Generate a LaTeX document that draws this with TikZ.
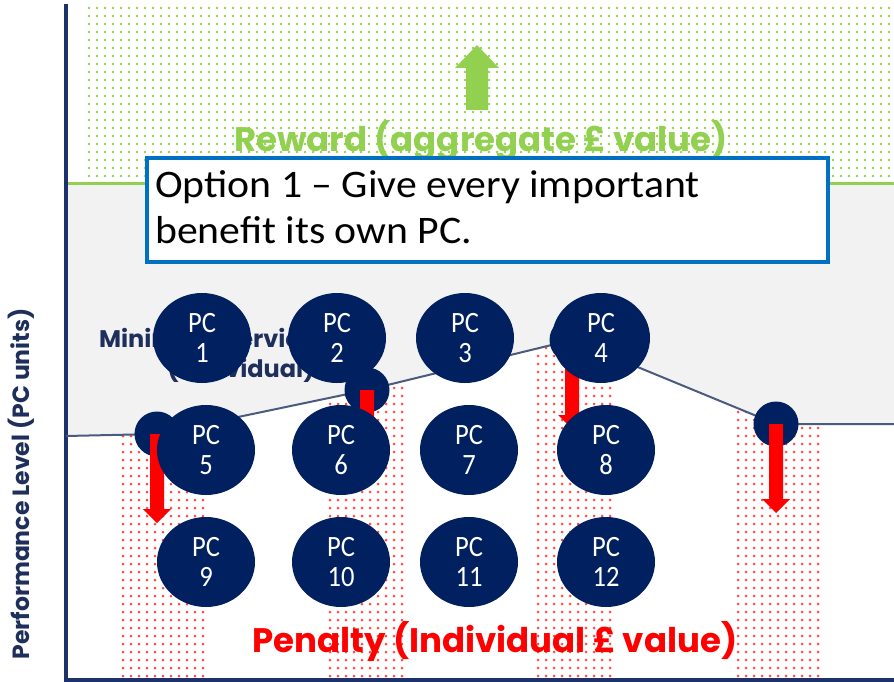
\documentclass[tikz,border=0pt]{standalone}
\usepackage{fontspec}
\setmainfont{Carlito}
\newfontfamily\popfont{Poppins}
\newfontfamily\cfont[FakeStretch=0.9]{Carlito}
\newfontfamily\bxfont[FakeStretch=1.07]{Carlito}
\usetikzlibrary{shapes.geometric}
\definecolor{navyfill}{HTML}{002060}
\definecolor{axisnavy}{HTML}{1B326B}
\definecolor{perfline}{HTML}{4A5B7E}
\definecolor{textnavy}{HTML}{1F2F5C}
\definecolor{greenc}{HTML}{92D050}
\definecolor{redc}{HTML}{FF0000}
\definecolor{reddot}{HTML}{FF4A4A}
\definecolor{boxblue}{HTML}{0070C0}
\definecolor{greyfill}{HTML}{F2F2F2}
\tikzset{
  pc/.style={ellipse, fill=navyfill, text=white, minimum width=98pt, minimum height=90pt,
    inner sep=0pt, align=center, font=\cfont\fontsize{29.5}{30}\selectfont},
  marker/.style={circle, fill=navyfill, minimum size=45pt, inner sep=0pt},
  redarrow/.pic={\fill[redc] (-7,0) -- (-7,75) -- (-14,75) -- (0,89) -- (14,75) -- (7,75) -- (7,0) -- cycle;},
  bigtext/.style={font=\popfont\bfseries\fontsize{34}{40}\selectfont, anchor=base},
  midtext/.style={font=\popfont\bfseries\fontsize{24}{30}\selectfont, text=textnavy, anchor=base},
  boxtext/.style={anchor=base west, font=\bxfont\fontsize{39}{46}\selectfont, inner sep=0pt},
}
\begin{document}
\begin{tikzpicture}[x=1pt,y=-1pt]
\useasboundingbox (0,0) rectangle (894,682);
\fill[white] (0,0) rectangle (894,682);
\coordinate (L0) at (66,436);
\coordinate (m1) at (157,434);
\coordinate (m2) at (367,390);
\coordinate (m3) at (572,340);
\coordinate (m4) at (776,424);
\coordinate (R0) at (894,424);
% grey band
\fill[greyfill] (66,183) -- (894,183) -- (R0) -- (m4) -- (m3) -- (m2) -- (m1) -- (L0) -- cycle;
% green dots
\fill[greenc] foreach \x in {89,97,...,889} {foreach \y in {8,16,...,176} {(\x,\y) circle[radius=1.4pt]}};
% red dots
\begin{scope}
\clip (L0) -- (m1) -- (m2) -- (m3) -- (m4) -- (R0) -- (894,682) -- (66,682) -- cycle;
\fill[reddot] foreach \x in {123,131,...,203} {foreach \y in {340,348,...,676} {(\x,\y) circle[radius=1.5pt]}};
\fill[reddot] foreach \x in {330,338,...,402} {foreach \y in {340,348,...,676} {(\x,\y) circle[radius=1.5pt]}};
\fill[reddot] foreach \x in {538,546,...,610} {foreach \y in {340,348,...,676} {(\x,\y) circle[radius=1.5pt]}};
\fill[reddot] foreach \x in {738,746,...,818} {foreach \y in {340,348,...,676} {(\x,\y) circle[radius=1.5pt]}};
\end{scope}
% lines
\draw[greenc, line width=3pt] (66,183) -- (894,183);
\draw[axisnavy, line width=3.5pt] (66,4) -- (66,680) -- (894,680);
\draw[perfline, line width=2pt] (L0) -- (m1) -- (m2) -- (m3) -- (m4) -- (R0);
% markers
\node[marker] (k1) at (m1) {};
\node[marker] (k2) at (m2) {};
\node[marker] (k3) at (m3) {};
\node[marker] (k4) at (m4) {};
\pic at (k1.center) {redarrow};
\pic at (k2.center) {redarrow};
\pic at (k3.center) {redarrow};
\pic at (k4.center) {redarrow};
% green arrow
\fill[greenc] (466,110) -- (466,68) -- (455,68) -- (477,45) -- (499,68) -- (488,68) -- (488,110) -- cycle;
% texts
\node[bigtext, text=greenc] (reward) at (481,152) {Reward (aggregate £ value)};
\node[bigtext, text=redc] (penalty) at (495,652) {Penalty (Individual £ value)};
\node[midtext] (minA) at (241,347) {Minimum Service Level};
\node[midtext] (minB) at (241,377) {(Individual)};
\node[rotate=90, font=\popfont\bfseries\fontsize{23.5}{28}\selectfont, text=textnavy] (ylab) at (21,484) {Performance Level (PC units)};
% option box
\node[draw=boxblue, line width=4pt, fill=white, minimum width=681pt, minimum height=104pt, inner sep=0pt] (opt) at (487.5,210) {};
\node[boxtext] (optA) at (155,197) {Option 1 – Give every important};
\node[boxtext] (optB) at (155,243) {benefit its own PC.};
% PC ellipses
\node[pc] (pc1) at (202,338) {PC\\1};
\node[pc] (pc2) at (337,338) {PC\\2};
\node[pc] (pc3) at (465,338) {PC\\3};
\node[pc] (pc4) at (601,338) {PC\\4};
\node[pc] (pc5) at (206,450) {PC\\5};
\node[pc] (pc6) at (341,450) {PC\\6};
\node[pc] (pc7) at (469,450) {PC\\7};
\node[pc] (pc8) at (606,450) {PC\\8};
\node[pc] (pc9) at (206,562) {PC\\9};
\node[pc] (pc10) at (341,562) {PC\\10};
\node[pc] (pc11) at (469,562) {PC\\11};
\node[pc] (pc12) at (606,562) {PC\\12};
\end{tikzpicture}
\end{document}
